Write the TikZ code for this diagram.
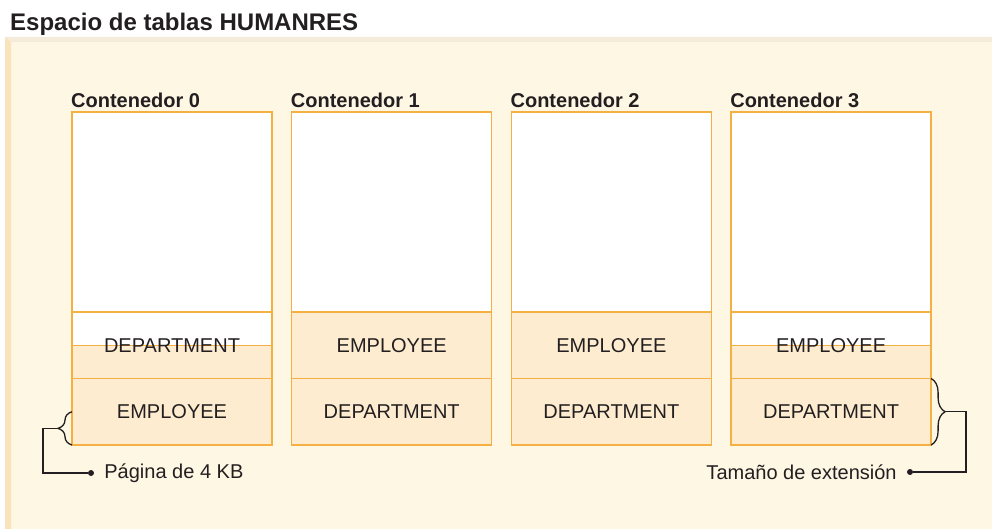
\documentclass[tikz,border=0pt]{standalone}
\usepackage{fontspec}
\setmainfont{Liberation Sans}
\usetikzlibrary{positioning,decorations.pathreplacing}

\definecolor{panelfill}{HTML}{FEF7E4}
\definecolor{paneltop}{HTML}{F4EBDB}
\definecolor{panelleft}{HTML}{F9E3BB}
\definecolor{boxline}{HTML}{F4B042}
\definecolor{pagefill}{HTML}{FDECD0}
\definecolor{ink}{HTML}{231F20}

\tikzset{
  container/.style={draw=boxline, fill=white, line width=1.3pt, minimum width=200pt,
    minimum height=333pt, inner sep=0pt, outer sep=0pt},
  extpage/.style={draw=boxline, fill=pagefill, line width=1.3pt, minimum width=200pt,
    minimum height=66.5pt, inner sep=0pt, outer sep=0pt, text=ink,
    font=\fontsize{20}{24}\selectfont},
  halfpage/.style={extpage, minimum height=33.25pt},
  conttitle/.style={inner sep=0pt, text=ink, font=\fontsize{20}{24}\selectfont\bfseries},
  callout/.style={inner sep=0pt, text=ink, font=\fontsize{20}{24}\selectfont},
  dot/.style={circle, fill=ink, inner sep=0pt, minimum size=6pt},
  bracket/.style={draw=ink, line width=1.3pt, decorate,
    decoration={brace, amplitude=14pt}}
}

\begin{document}
\begin{tikzpicture}[x=1pt, y=-1pt, node distance=219.7pt]
        \useasboundingbox (0,0) rectangle (992,529);
        % Panel
        \fill[panelfill] (5,37) rectangle (992,529);
        \fill[paneltop] (5,37) -- (992,37) -- (992,42) -- (11,42) -- cycle;
        \fill[panelleft] (5,37) -- (11,42) -- (11,529) -- (5,529) -- cycle;
        \node[anchor=base west, inner sep=0pt, text=ink, font=\fontsize{24}{28}\selectfont\bfseries]
          (title) at (10,31) {Espacio de tablas HUMANRES};
        % Containers
        \node[container] (c0) at (172,278.5) {};
        \node[container, right of=c0] (c1) {};
        \node[container, right of=c1] (c2) {};
        \node[container, right of=c2] (c3) {};
        \node[conttitle, above right=4pt and -1pt of c0.north west] (t0) {Contenedor 0};
        \node[conttitle, above right=4pt and -1pt of c1.north west] (t1) {Contenedor 1};
        \node[conttitle, above right=4pt and -1pt of c2.north west] (t2) {Contenedor 2};
        \node[conttitle, above right=4pt and -1pt of c3.north west] (t3) {Contenedor 3};
        % Extents
        \node[extpage, above=0pt of c0.south] (c0b) {EMPLOYEE};
        \node[halfpage, above=0pt of c0b.north] (c0h) {};
        \node[halfpage, fill=white, above=0pt of c0h.north] (c0w) {};
        \node[extpage, draw=none, fill=none] (c0a) at (c0h.north) {DEPARTMENT};
        \node[extpage, above=0pt of c1.south] (c1b) {DEPARTMENT};
        \node[extpage, above=0pt of c1b.north] (c1a) {EMPLOYEE};
        \node[extpage, above=0pt of c2.south] (c2b) {DEPARTMENT};
        \node[extpage, above=0pt of c2b.north] (c2a) {EMPLOYEE};
        \node[extpage, above=0pt of c3.south] (c3b) {DEPARTMENT};
        \node[halfpage, above=0pt of c3b.north] (c3h) {};
        \node[halfpage, fill=white, above=0pt of c3h.north] (c3w) {};
        \node[extpage, draw=none, fill=none] (c3a) at (c3h.north) {EMPLOYEE};
        % Callouts
        \draw[bracket] (c0b.south west) -- (c0b.west)
          coordinate[midway, xshift=-14pt] (pgtip);
        \draw[bracket] (c3b.north east) -- (c3b.south east)
          coordinate[midway, xshift=15pt] (extip);
        \node[dot] (pgdot) at (91,473) {};
        \node[callout, right=10pt of pgdot] (pglabel) {Página de 4 KB};
        \node[dot] (exdot) at (910,472) {};
        \node[callout, left=10pt of exdot] (exlabel) {Tamaño de extensión};
        \draw[ink, line width=1.3pt] (pgtip) -- ++(-15,0) |- (pgdot);
        \draw[ink, line width=1.3pt] (extip) -- ++(20,0) |- (exdot);
    \end{tikzpicture}
\end{document}
